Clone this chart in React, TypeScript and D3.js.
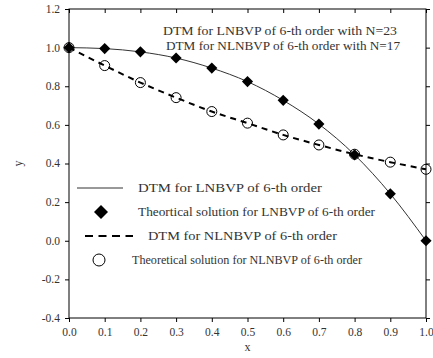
import React, { useEffect, useRef } from "react";
import * as d3 from "d3";

// x positions shared by both series
const xValues = [0, 0.1, 0.2, 0.3, 0.4, 0.5, 0.6, 0.7, 0.8, 0.9, 1.0];
// linear problem (diamonds + solid line)
const lnbvpValues = [1.0, 0.995, 0.978, 0.946, 0.894, 0.824, 0.727, 0.604, 0.445, 0.243, 0.0];
// nonlinear problem (circles + dashed line)
const nlnbvpValues = [1.0, 0.907, 0.819, 0.741, 0.669, 0.609, 0.548, 0.496, 0.448, 0.407, 0.37];

const xTicks = [0, 0.1, 0.2, 0.3, 0.4, 0.5, 0.6, 0.7, 0.8, 0.9, 1.0];
const yTicks = [-0.4, -0.2, 0.0, 0.2, 0.4, 0.6, 0.8, 1.0, 1.2];

const notes = ["DTM for LNBVP of 6-th order with N=23", "DTM for NLNBVP of 6-th order with N=17"];
const legendLabels = [
  "DTM for LNBVP of 6-th order",
  "Theortical solution for LNBVP of 6-th order",
  "DTM for NLNBVP of 6-th order",
  "Theoretical solution for NLNBVP of 6-th order",
];

const W = 433;
const H = 358;
const FONT = "'Liberation Serif', 'Times New Roman', serif";

const App: React.FC = () => {
  const svgRef = useRef<SVGSVGElement | null>(null);

  useEffect(() => {
    if (!svgRef.current) return;
    const svg = d3.select(svgRef.current);
    svg.selectAll("*").remove();

    const margin = { top: 9, right: 7, bottom: 40, left: 69 };
    const x = d3.scaleLinear().domain([0, 1]).range([margin.left, W - margin.right]);
    const y = d3.scaleLinear().domain([-0.4, 1.2]).range([H - margin.bottom, margin.top]);

    // frame
    svg.append("rect")
      .attr("x", x(0)).attr("y", y(1.2))
      .attr("width", x(1) - x(0)).attr("height", y(-0.4) - y(1.2))
      .attr("fill", "none").attr("stroke", "#000").attr("stroke-width", 1);

    // plain hyphen for negatives, like the original
    const fmt = (v: number) => v.toFixed(1).replace("−", "-");

    // bottom axis, outward ticks
    const bottom = svg.append("g")
      .attr("transform", `translate(0,${y(-0.4)})`)
      .call(d3.axisBottom(x).tickValues(xTicks).tickSize(4).tickPadding(8).tickFormat((d) => fmt(d as number)));
    // top ticks, inward
    svg.append("g")
      .attr("transform", `translate(0,${y(1.2)})`)
      .call(d3.axisBottom(x).tickValues(xTicks).tickSize(4).tickFormat(() => ""));
    // left axis, outward ticks
    const left = svg.append("g")
      .attr("transform", `translate(${x(0)},0)`)
      .call(d3.axisLeft(y).tickValues(yTicks).tickSize(4).tickPadding(5).tickFormat((d) => fmt(d as number)));
    // right ticks, outward
    svg.append("g")
      .attr("transform", `translate(${x(1)},0)`)
      .call(d3.axisRight(y).tickValues(yTicks).tickSize(4).tickFormat(() => ""));

    svg.selectAll(".domain").remove();
    svg.selectAll(".tick line").attr("stroke", "#000");
    [bottom, left].forEach((g) =>
      g.selectAll("text")
        .attr("font-family", FONT)
        .attr("font-size", 11.5)
        .attr("fill", "#333")
    );
    bottom.selectAll("text").attr("dy", "0.5em");
    left.selectAll("text").attr("dy", "0.3em");

    // axis titles
    svg.append("text")
      .attr("x", x(0.5)).attr("y", 351)
      .attr("text-anchor", "middle")
      .attr("font-family", FONT).attr("font-size", 12).attr("fill", "#333")
      .text("x");
    svg.append("text")
      .attr("transform", `translate(22,${y(0.4)}) rotate(-90)`)
      .attr("text-anchor", "middle")
      .attr("font-family", FONT).attr("font-size", 12).attr("fill", "#333")
      .text("y");

    const curve = d3.line<number>()
      .x((_, i) => x(xValues[i]))
      .curve(d3.curveMonotoneX);

    svg.append("path")
      .attr("d", curve.y((d) => y(d))(lnbvpValues))
      .attr("fill", "none").attr("stroke", "#333").attr("stroke-width", 1);

    svg.append("path")
      .attr("d", curve.y((d) => y(d))(nlnbvpValues))
      .attr("fill", "none").attr("stroke", "#000").attr("stroke-width", 2)
      .attr("stroke-dasharray", "6,5");

    const diamond = d3.symbol().type(d3.symbolSquare).size(62);
    svg.append("g").selectAll("path")
      .data(lnbvpValues)
      .join("path")
      .attr("d", diamond()!)
      .attr("transform", (d, i) => `translate(${x(xValues[i])},${y(d)}) rotate(45)`)
      .attr("fill", "#000");

    svg.append("g").selectAll("circle")
      .data(nlnbvpValues)
      .join("circle")
      .attr("cx", (_, i) => x(xValues[i]))
      .attr("cy", (d) => y(d))
      .attr("r", 5)
      .attr("fill", "none")
      .attr("stroke", "#000")
      .attr("stroke-width", 1);

    // annotation in top right
    const noteX = [163, 166];
    const noteY = [35, 50];
    notes.forEach((t, i) => {
      svg.append("text")
        .attr("x", noteX[i]).attr("y", noteY[i])
        .attr("font-family", FONT).attr("font-size", 12.5).attr("fill", "#333")
        .attr("textLength", 234).attr("lengthAdjust", "spacingAndGlyphs")
        .text(t);
    });

    // legend
    const legendY = [188, 212, 236, 260];
    const textX = [138, 138, 148, 132];
    const textW = [184, 237, 189, 230];
    const lg = svg.append("g");
    lg.append("line").attr("x1", 77).attr("x2", 123).attr("y1", legendY[0]).attr("y2", legendY[0])
      .attr("stroke", "#333").attr("stroke-width", 1);
    lg.append("path")
      .attr("d", d3.symbol().type(d3.symbolSquare).size(98)()!)
      .attr("transform", `translate(101,${legendY[1]}) rotate(45)`)
      .attr("fill", "#000");
    lg.append("line").attr("x1", 85).attr("x2", 133).attr("y1", legendY[2]).attr("y2", legendY[2])
      .attr("stroke", "#000").attr("stroke-width", 2).attr("stroke-dasharray", "8,5.5");
    lg.append("circle").attr("cx", 99).attr("cy", legendY[3]).attr("r", 6)
      .attr("fill", "none").attr("stroke", "#000").attr("stroke-width", 1);
    legendLabels.forEach((t, i) => {
      lg.append("text")
        .attr("x", textX[i]).attr("y", legendY[i] + 4)
        .attr("font-family", FONT).attr("font-size", 12).attr("fill", "#333")
        .attr("textLength", textW[i]).attr("lengthAdjust", "spacingAndGlyphs")
        .text(t);
    });
  }, []);

  return (
    <svg
      ref={svgRef}
      width={W}
      height={H}
      style={{ position: "absolute", left: 0, top: 0, background: "#fff" }}
    />
  );
};

export default App;
